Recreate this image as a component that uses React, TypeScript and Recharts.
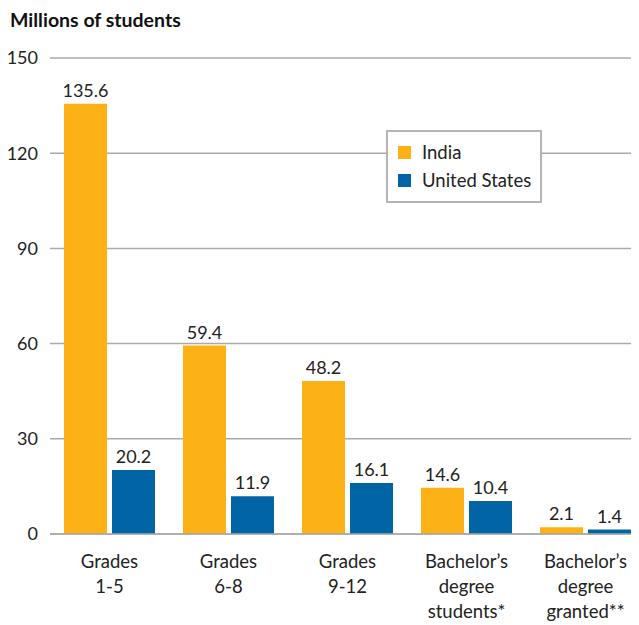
import { BarChart, Bar, XAxis, YAxis, CartesianGrid, Legend, LabelList } from "recharts";

const categories = ["Grades\n1-5", "Grades\n6-8", "Grades\n9-12", "Bachelor’s\ndegree\nstudents*", "Bachelor’s\ndegree\ngranted**"];
const india = [135.6, 59.4, 48.2, 14.6, 2.1];
const unitedStates = [20.2, 11.9, 16.1, 10.4, 1.4];
const yTicks = [0, 30, 60, 90, 120, 150];

const INDIA_COLOR = "#FCB116";
const US_COLOR = "#0064A5";
const FONT = "Lato, 'Open Sans', sans-serif";

const data = categories.map((name, i) => ({
  name,
  india: india[i],
  us: unitedStates[i]
}));

const CategoryTick = ({ x, y, payload }: any) => {
  const lines = String(payload.value).split("\n");
  return (
    <text x={x} y={y} textAnchor="middle" fill="#222" fontSize={18.5} fontFamily={FONT}>
      {lines.map((line, i) => (
        <tspan key={i} x={x} dy={i === 0 ? 26 : 25}>
          {line}
        </tspan>
      ))}
    </text>
  );
};

const LegendBox = () => {
  const items = [
    { label: "India", color: INDIA_COLOR },
    { label: "United States", color: US_COLOR }
  ];
  return (
    <div
      style={{
        width: 152,
        height: 63,
        border: "2px solid #b4b4b4",
        background: "#fff",
        paddingTop: 6,
        boxSizing: "content-box",
        fontFamily: FONT,
        fontSize: 18.5,
        color: "#222"
      }}
    >
      {items.map((item) => (
        <div key={item.label} style={{ height: 28, display: "flex", alignItems: "center" }}>
          <span style={{ display: "inline-block", width: 13, height: 13, background: item.color, marginLeft: 10, marginRight: 11 }} />
          <span>{item.label}</span>
        </div>
      ))}
    </div>
  );
};

export default function App() {
  return (
    <div style={{ position: "relative", width: 631, height: 617, overflow: "hidden" }}>
      <div
        style={{
          position: "absolute",
          left: 2,
          top: 2,
          fontFamily: FONT,
          fontWeight: 700,
          fontSize: 19.5,
          lineHeight: "19.5px",
          color: "#111"
        }}
      >
        Millions of students
      </div>
      <BarChart
        width={640}
        height={617}
        data={data}
        margin={{ top: 50, right: 3, left: 0, bottom: 0 }}
        barSize={43}
        barGap={5}
      >
        <CartesianGrid vertical={false} stroke="#aaa" strokeWidth={1.5} />
        <XAxis
          dataKey="name"
          height={91}
          tickLine={false}
          axisLine={{ stroke: "#aaa", strokeWidth: 1.5 }}
          tick={<CategoryTick />}
          interval={0}
        />
        <YAxis
          width={42}
          domain={[0, 150]}
          ticks={yTicks}
          axisLine={false}
          tickLine={false}
          tickMargin={6}
          tick={{ fill: "#222", fontSize: 18, fontFamily: FONT }}
        />
        <Legend
          layout="vertical"
          align="center"
          verticalAlign="middle"
          content={<LegendBox />}
          wrapperStyle={{ left: 378, top: 122, width: 156 }}
        />
        <Bar dataKey="india" name="India" fill={INDIA_COLOR} isAnimationActive={false}>
          <LabelList dataKey="india" position="top" offset={7} fill="#222" fontSize={18} fontFamily={FONT} />
        </Bar>
        <Bar dataKey="us" name="United States" fill={US_COLOR} isAnimationActive={false}>
          <LabelList dataKey="us" position="top" offset={7} fill="#222" fontSize={18} fontFamily={FONT} />
        </Bar>
      </BarChart>
    </div>
  );
}
